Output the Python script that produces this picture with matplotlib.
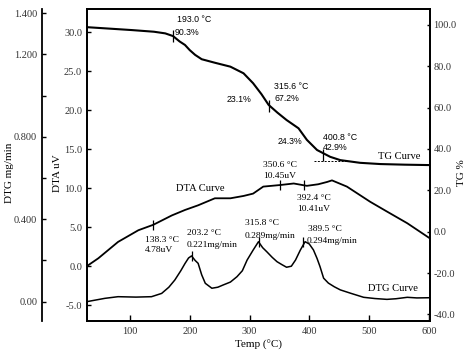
import matplotlib
matplotlib.use("Agg")
import matplotlib.pyplot as plt

plt.rcParams["font.family"] = ["Liberation Serif", "DejaVu Serif"]

# --- datos ---
# curva TG (%)
tg_temp = [28, 103, 140, 159, 172, 183, 192, 200, 209, 220, 242, 268, 290, 306,
           320, 332, 347, 362, 382, 396, 413, 435, 452, 485, 519, 560, 602]
tg_val = [98.9, 97.5, 96.7, 95.9, 94.6, 92.0, 90.3, 87.8, 85.5, 83.4, 81.7, 79.8,
          76.6, 71.8, 66.5, 61.3, 57.5, 54.0, 50.0, 44.4, 39.5, 36.2, 34.6, 33.3,
          32.7, 32.4, 32.2]

# curva DTA (uV)
dta_temp = [28, 47, 80, 114, 139, 170, 192, 214, 242, 268, 290, 306, 323, 351,
            374, 396, 415, 430, 438, 463, 502, 530, 564, 602]
dta_val = [0.0, 1.0, 3.1, 4.6, 5.3, 6.5, 7.2, 7.8, 8.7, 8.7, 9.0, 9.3, 10.2, 10.4,
           10.6, 10.3, 10.5, 10.8, 11.0, 10.2, 8.25, 7.0, 5.5, 3.55]

# curva DTG (mg/min)
dtg_temp = [28, 58, 80, 110, 136, 153, 165, 175, 185, 192, 198, 203, 209, 214,
            220, 226, 237, 247, 256, 268, 279, 288, 296, 306, 315, 322, 329, 338,
            346, 354, 362, 370, 377, 385, 393, 400, 407, 413, 418, 424, 432, 442,
            452, 470, 491, 510, 530, 545, 564, 580, 602]
dtg_val = [0.0, 0.016, 0.024, 0.022, 0.024, 0.040, 0.070, 0.105, 0.150, 0.185,
           0.212, 0.222, 0.200, 0.186, 0.130, 0.089, 0.065, 0.070, 0.081, 0.095,
           0.121, 0.150, 0.202, 0.250, 0.291, 0.262, 0.242, 0.215, 0.194, 0.180,
           0.167, 0.172, 0.202, 0.250, 0.291, 0.280, 0.251, 0.210, 0.170, 0.114,
           0.090, 0.072, 0.057, 0.040, 0.021, 0.015, 0.011, 0.014, 0.021, 0.018,
           0.019]

# marcas sobre las curvas
tg_mark_temp = [172, 332, 423]
tg_mark_val = [94.7, 61.0, 37.0]
dta_mark_temp = [139, 351, 392]
dta_mark_val = [5.3, 10.4, 10.35]
dtg_mark_temp = [203.2, 315.8, 389.5]
dtg_mark_val = [0.222, 0.291, 0.291]

# --- grafico ---
fig = plt.figure(figsize=(4.74, 3.55), dpi=100)
ax = fig.add_axes([0.1835, 0.0958, 0.7236, 0.8789])
ax_tg = ax.twinx()
ax_dtg = ax.twinx()

lw_sp = 1.3
for a in (ax, ax_tg, ax_dtg):
    for s in a.spines.values():
        s.set_linewidth(lw_sp)

# eje DTG separado a la izquierda
ax_dtg.spines["left"].set_position(("axes", -0.131))
ax_dtg.spines["left"].set_visible(True)
ax_dtg.spines["right"].set_visible(False)
ax_dtg.spines["top"].set_visible(False)
ax_dtg.spines["bottom"].set_visible(False)
ax_dtg.yaxis.set_ticks_position("left")
ax_dtg.yaxis.set_label_position("left")

ax.plot(dta_temp, dta_val, color="black", lw=1.3)
ax_tg.plot(tg_temp, tg_val, color="black", lw=1.5)
ax_dtg.plot(dtg_temp, dtg_val, color="black", lw=1.1)

ax_tg.plot(tg_mark_temp, tg_mark_val, ls="none", marker="|", ms=9, mew=0.9, color="black")
ax.plot(dta_mark_temp, dta_mark_val, ls="none", marker="|", ms=7, mew=0.9, color="black")
ax_dtg.plot(dtg_mark_temp, dtg_mark_val, ls="none", marker="|", ms=7, mew=0.9, color="black")
ax_tg.plot([408, 462], [34.3, 34.3], ls=(0, (2, 1.5)), lw=0.7, color="black")

ax.set_xlim(28, 602)
ax.set_ylim(-7.05, 33.0)
ax_tg.set_ylim(-43.2, 107.7)
ax_dtg.set_ylim(-0.094, 1.421)

ax.set_xticks([100, 200, 300, 400, 500, 600])
ax.set_yticks([-5, 0, 5, 10, 15, 20, 25, 30])
ax.set_yticklabels([f"{v:.1f}" for v in ax.get_yticks()])
ax_tg.set_yticks([-40, -20, 0, 20, 40, 60, 80, 100])
ax_tg.set_yticklabels([f"{v:.1f}" for v in ax_tg.get_yticks()])
ax_dtg.set_yticks([0, 0.2, 0.4, 0.6, 0.8, 1.0, 1.2, 1.4])
ax_dtg.set_yticklabels(["0.00", "", "0.400", "", "0.800", "", "1.200", "1.400"])

tick_col = "#333333"
ax.tick_params(axis="both", direction="in", length=3, width=1, labelsize=7.5,
               labelcolor=tick_col, pad=3.5)
ax.tick_params(axis="x", length=4, pad=4)
ax_tg.tick_params(axis="y", direction="in", length=2, width=1, labelsize=7.5,
                  labelcolor=tick_col, pad=2.5)
ax_dtg.tick_params(axis="y", direction="in", length=3, width=1, labelsize=7.5,
                   labelcolor=tick_col, pad=3.5)

ax.set_xlabel("Temp (°C)", fontsize=8)
ax.xaxis.set_label_coords(0.5, -0.062)
ax.set_ylabel("DTA uV", fontsize=8)
ax.yaxis.set_label_coords(-0.072, 0.474)
ax_tg.set_ylabel("TG %", fontsize=8)
ax_tg.yaxis.set_label_coords(1.078, 0.474)
ax_dtg.set_ylabel("DTG mg/min", fontsize=8)
ax_dtg.yaxis.set_label_coords(-0.212, 0.474)

# anotaciones TG (sans)
sans = dict(family=["Liberation Sans", "DejaVu Sans"], fontsize=6.3, va="center", ha="left")
ax.text(179, 31.6, "193.0 °C", **sans)
ax.text(174, 29.95, "90.3%", **sans)
ax.text(261, 21.4, "23.1%", **sans)
ax.text(341, 23.1, "315.6 °C", **sans)
ax.text(341, 21.5, "67.2%", **sans)
ax.text(347.5, 16.05, "24.3%", **sans)
ax.text(423, 16.5, "400.8 °C", **sans)
ax.text(423, 15.2, "42.9%", **sans)

# anotaciones DTA / DTG (serif)
ser = dict(fontsize=6.8, va="center", ha="left")
ax.text(323, 13.0, "350.6 °C", **ser)
ax.text(323, 11.6, "10.45uV", **ser)
ax.text(379, 8.8, "392.4 °C", **ser)
ax.text(379, 7.3, "10.41uV", **ser)
ax.text(125, 3.35, "138.3 °C", **ser)
ax.text(125, 2.0, "4.78uV", **ser)
ax.text(195, 4.3, "203.2 °C", **ser)
ax.text(195, 2.65, "0.221mg/min", **ser)
ax.text(292.5, 5.5, "315.8 °C", **ser)
ax.text(291, 3.85, "0.289mg/min", **ser)
ax.text(398, 4.7, "389.5 °C", **ser)
ax.text(395.5, 3.25, "0.294mg/min", **ser)

curve = dict(fontsize=7.6, va="center", ha="left")
ax.text(515, 14.1, "TG Curve", **curve)
ax.text(177, 9.9, "DTA Curve", **curve)
ax.text(499, -2.85, "DTG Curve", **curve)

plt.savefig("out.png", dpi=100)
